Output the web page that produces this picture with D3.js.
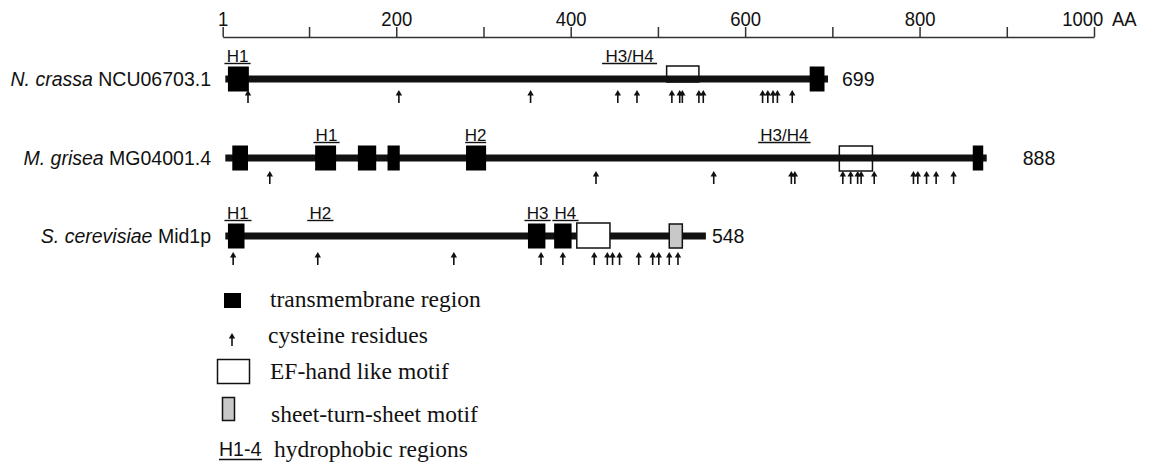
<!DOCTYPE html>
<html><head><meta charset="utf-8">
<script src="https://cdn.jsdelivr.net/npm/d3@7"></script>
<style>
html,body{margin:0;padding:0;background:#fff;}
svg{display:block;}
</style></head>
<body>
<svg id="chart" width="1152" height="464"></svg>
<script>
// ---------- data ----------
const axisTicks = [1,100,200,300,400,500,600,700,800,900,1000];
const axisLabels = [1,200,400,600,800,1000];
const axisUnit = "AA";

const species = ["N. crassa", "M. grisea", "S. cerevisiae"];
const proteinIds = ["NCU06703.1", "MG04001.4", "Mid1p"];
const lengths = [699, 888, 548];
const lineStarts = [4, 4, 4];
const lineEnds = [695, 877, 555];

const tmRegions = [
  [[7,31],[674,691]],
  [[12,30],[107,131],[156,177],[190,204],[280,303],[861,873]],
  [[7,26],[351,371],[381,401]]
];
const efMotifs = [[510,547],[708,746],[407,445]];
const stsMotifs = [null, null, [513,528]];
const cysteines = [
  [30,203,354,454,476,516,525,528,547,552,620,626,632,637,654],
  [55,429,564,653,657,712,721,729,733,748,793,798,808,819,839],
  [13,110,266,366,391,427,442,448,456,478,494,501,513,523]
];
const hydroLabels = [
  [["H1",3,33],["H3/H4",436,499]],
  [["H1",105,135],["H2",279,303],["H3/H4",615,675]],
  [["H1",3,34],["H2",98,128],["H3",347,377],["H4",379,409]]
];
const legendLabels = ["transmembrane region","cysteine residues","EF-hand like motif","sheet-turn-sheet motif","hydrophobic regions"];
const legendHydroKey = "H1-4";

// ---------- layout ----------
const rowY = [79, 158, 236];
const arrowTop = [11, 13, 16];
const arrowLen = 13;
const endLabelGap = [14, 36, 6];
const efBox = [[-13,3],[-12,13],[-13,12]];   // relative to row center
const efFill = ["none","none","#fff"];
const sans = "'Liberation Sans', Arial, sans-serif";
const serif = "'Liberation Serif', 'Times New Roman', serif";

const svg = d3.select("#chart");
const x = d3.scaleLinear().domain([1,1000]).range([222.7,1094]);

// ---------- axis ----------
const axisG = svg.append("g").attr("transform","translate(0,37)");
axisG.call(d3.axisTop(x).tickValues(axisTicks).tickSize(10).tickSizeOuter(0).tickPadding(1)
  .tickFormat(d => axisLabels.includes(d) ? String(d) : ""));
axisG.select(".domain").attr("stroke","#333").attr("stroke-width",1.5);
axisG.selectAll(".tick line").attr("stroke","#333").attr("stroke-width",1.5);
axisG.selectAll(".tick text").attr("font-family",sans).attr("font-size",21).attr("fill","#111")
  .attr("transform","scale(0.88,1)").attr("x",0);
axisG.selectAll(".tick").filter(d => d === 1000).select("text").attr("text-anchor","end").attr("x",10);
svg.append("g").attr("transform","translate(1112,26) scale(0.88,1)")
  .append("text").attr("x",0).attr("y",0).attr("font-family",sans)
  .attr("font-size",21).attr("fill","#111").text(axisUnit);

// arrow helper
function arrow(g, cx, top, len){
  g.append("line").attr("x1",cx).attr("x2",cx).attr("y1",top+4).attr("y2",top+len)
    .attr("stroke","#111").attr("stroke-width",1.6);
  g.append("path").attr("d",`M${cx-3.2},${top+5.5}L${cx},${top}L${cx+3.2},${top+5.5}Z`).attr("fill","#111");
}

// ---------- rows ----------
species.forEach((sp, i) => {
  const g = svg.append("g");
  const cy = rowY[i];
  const t = g.append("text").attr("x",211).attr("y",cy+7).attr("text-anchor","end")
    .attr("font-family",sans).attr("font-size",19.5).attr("fill","#111");
  t.append("tspan").attr("font-style","italic").text(sp);
  t.append("tspan").text(" " + proteinIds[i]);
  g.append("rect").attr("x",x(lineStarts[i])).attr("y",cy-3.5)
    .attr("width",x(lineEnds[i])-x(lineStarts[i])).attr("height",7).attr("fill","#111");
  const ef = efMotifs[i];
  g.append("rect").attr("x",x(ef[0])).attr("y",cy+efBox[i][0])
    .attr("width",x(ef[1])-x(ef[0])).attr("height",efBox[i][1]-efBox[i][0])
    .attr("fill",efFill[i]).attr("stroke","#111").attr("stroke-width",1.5);
  if (stsMotifs[i]) {
    const s = stsMotifs[i];
    g.append("rect").attr("x",x(s[0])).attr("y",cy-12)
      .attr("width",x(s[1])-x(s[0])).attr("height",24)
      .attr("fill","#c8c8c8").attr("stroke","#111").attr("stroke-width",1.5);
  }
  g.selectAll("rect.tm").data(tmRegions[i]).join("rect").attr("class","tm")
    .attr("x",d => x(d[0])).attr("y",cy-12.5)
    .attr("width",d => x(d[1])-x(d[0])).attr("height",25).attr("fill","#000");
  cysteines[i].forEach(c => arrow(g, x(c), cy+arrowTop[i], arrowLen));
  hydroLabels[i].forEach(h => {
    const mid = (x(h[1])+x(h[2]))/2;
    g.append("text").attr("x",mid).attr("y",cy-17.5).attr("text-anchor","middle")
      .attr("font-family",sans).attr("font-size",17).attr("fill","#111").text(h[0]);
    g.append("line").attr("x1",x(h[1])).attr("x2",x(h[2])).attr("y1",cy-15.5).attr("y2",cy-15.5)
      .attr("stroke","#111").attr("stroke-width",1.4);
  });
  g.append("text").attr("x",x(lineEnds[i])+endLabelGap[i]).attr("y",cy+7)
    .attr("font-family",sans).attr("font-size",19.5).attr("fill","#111").text(lengths[i]);
});

// ---------- legend ----------
const lg = svg.append("g");
const legY = [307, 343, 379, 422, 457];
const legX = [270, 268, 270, 271, 274];
legendLabels.forEach((l, k) => {
  lg.append("text").attr("x",legX[k]).attr("y",legY[k]).attr("font-family",serif)
    .attr("font-size",23.5).attr("fill","#111").text(l);
});
lg.append("rect").attr("x",224).attr("y",293).attr("width",17).attr("height",15).attr("fill","#000");
arrow(lg, 232, 333, 13);
lg.append("rect").attr("x",217.5).attr("y",359.5).attr("width",32).attr("height",24)
  .attr("fill","#fff").attr("stroke","#111").attr("stroke-width",1.5);
lg.append("rect").attr("x",222.5).attr("y",397.5).attr("width",12).attr("height",23)
  .attr("fill","#c8c8c8").attr("stroke","#111").attr("stroke-width",1.5);
lg.append("text").attr("x",219).attr("y",456).attr("font-family",sans).attr("font-size",19.5)
  .attr("fill","#111").text(legendHydroKey);
lg.append("line").attr("x1",219).attr("x2",262).attr("y1",459.5).attr("y2",459.5)
  .attr("stroke","#111").attr("stroke-width",1.3);
</script>
</body></html>
